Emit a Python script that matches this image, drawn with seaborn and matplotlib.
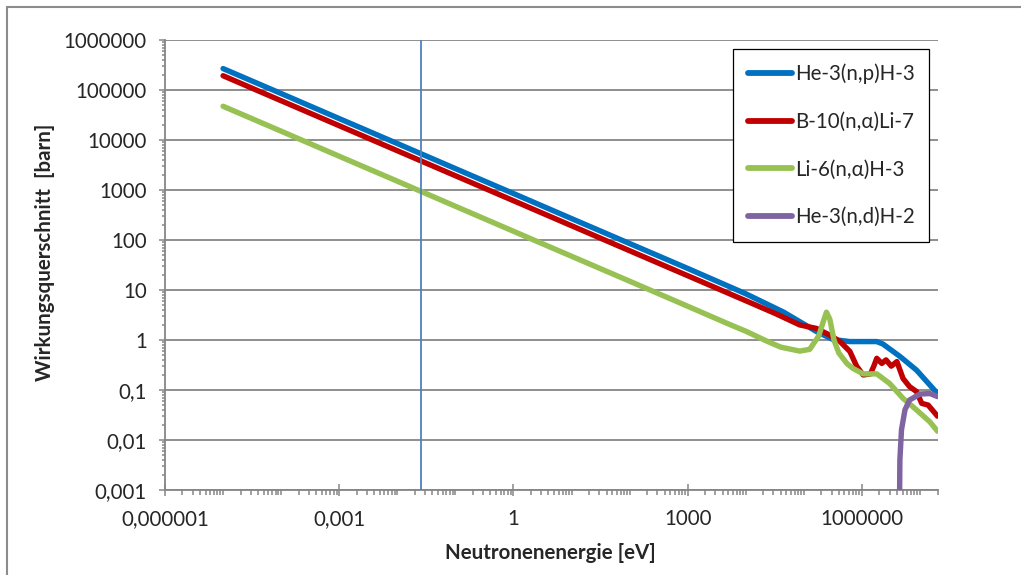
import matplotlib
matplotlib.use("Agg")
import matplotlib.pyplot as plt
import matplotlib.ticker as mticker
from matplotlib.lines import Line2D
import numpy as np
import pandas as pd
import seaborn as sns

# --- data (energy in eV, cross section in barn) ---
he3_np_energy = [1e-5, 1e-4, 1e-3, 1e-2, 1e-1, 1, 10, 100, 1e3, 1e4, 4.5e4,
                 1.66e5, 3.2e5, 6.2e5, 1.8e6, 2.3e6, 4.5e6, 8.7e6, 2e7]
he3_np_sigma = [2.68e5, 8.5e4, 2.68e4, 8.5e3, 2.68e3, 850, 268, 85, 27, 8.4, 3.6,
                1.47, 1.02, 0.93, 0.93, 0.83, 0.47, 0.25, 0.085]

b10_energy = [1e-5, 1e-4, 1e-3, 1e-2, 1e-1, 1, 10, 100, 1e3, 1e4, 3.2e4, 8.5e4,
              1.66e5, 2.8e5, 4.2e5, 6.2e5, 8.1e5, 1.05e6, 1.4e6, 1.6e6, 1.8e6,
              2.2e6, 2.6e6, 3.2e6, 4e6, 5.1e6, 6.6e6, 8.7e6, 1.07e7, 1.38e7, 2e7]
b10_sigma = [1.93e5, 6.1e4, 1.93e4, 6.1e3, 1.93e3, 611, 193, 61, 19.3, 6.1, 3.4, 2.0,
             1.7, 1.25, 0.93, 0.59, 0.3, 0.2, 0.21, 0.3, 0.43,
             0.34, 0.4, 0.3, 0.37, 0.17, 0.117, 0.093, 0.054, 0.05, 0.03]

li6_energy = [1e-5, 1e-4, 1e-3, 1e-2, 1e-1, 1, 10, 100, 1e3, 5e3, 1e4, 2.3e4, 4e4, 8.5e4,
              1.26e5, 1.8e5, 2.2e5, 2.45e5, 2.8e5, 3.3e5, 4e5, 5.5e5, 7e5, 1.05e6,
              1.8e6, 3e6, 5.1e6, 8.7e6, 1.48e7, 2e7]
li6_sigma = [4.73e4, 1.5e4, 4.73e3, 1.5e3, 473, 149.5, 47.3, 15, 4.73, 2.1, 1.5, 0.95, 0.72, 0.6,
             0.65, 1.2, 2.5, 3.6, 2.6, 1.0, 0.55, 0.34, 0.27, 0.21,
             0.21, 0.135, 0.068, 0.04, 0.023, 0.015]

he3_nd_energy = [4.4e6, 4.45e6, 4.5e6, 4.8e6, 5.5e6, 6.6e6, 1e7, 1.48e7, 2e7]
he3_nd_sigma = [1e-4, 8e-4, 0.004, 0.016, 0.04, 0.063, 0.083, 0.085, 0.074]

thermal_energy = 0.0253

series = [
    ("He-3(n,p)H-3", he3_np_energy, he3_np_sigma, "#0070C0"),
    ("B-10(n,α)Li-7", b10_energy, b10_sigma, "#C00000"),
    ("Li-6(n,α)H-3", li6_energy, li6_sigma, "#97C153"),
    ("He-3(n,d)H-2", he3_nd_energy, he3_nd_sigma, "#8064A2"),
]

x_major = [1e-6, 1e-3, 1, 1e3, 1e6]
y_major = [1e-3, 1e-2, 1e-1, 1, 10, 100, 1e3, 1e4, 1e5, 1e6]

sns.set_style("white")
plt.rcParams["font.family"] = ["Lato", "DejaVu Sans"]

GRAY = "#868686"
FS = 14.8

fig = plt.figure(figsize=(10.21, 5.75), dpi=100)
ax = fig.add_axes([165 / 1021, 85 / 575, 773 / 1021, 450 / 575])

for name, e, s, c in series:
    df = pd.DataFrame({"E": e, "sigma": s})
    sns.lineplot(data=df, x="E", y="sigma", ax=ax, color=c, linewidth=3.9,
                 label=name, estimator=None, sort=False, zorder=3)

ax.axvline(thermal_energy, color="#4F81BD", linewidth=1.3, zorder=4)

ax.set_xscale("log")
ax.set_yscale("log")
ax.set_xlim(1e-6, 2.04e7)
ax.set_ylim(1e-3, 1e6)


def comma_fmt(v, pos=None):
    if v >= 1:
        return f"{v:.0f}"
    digits = int(round(-np.log10(v)))
    return f"{v:.{digits}f}".replace(".", ",")


ax.xaxis.set_major_locator(mticker.FixedLocator(x_major))
x_minor = [k * 10.0 ** n for n in range(-6, 8) for k in range(1, 10)
           if k * 10.0 ** n < 2.04e7 and k * 10.0 ** n not in x_major]
ax.xaxis.set_minor_locator(mticker.FixedLocator(x_minor))
ax.yaxis.set_major_locator(mticker.FixedLocator(y_major))
ax.yaxis.set_minor_locator(mticker.LogLocator(base=10, subs=np.arange(2, 10)))
ax.xaxis.set_major_formatter(mticker.FuncFormatter(comma_fmt))
ax.yaxis.set_major_formatter(mticker.FuncFormatter(comma_fmt))
ax.xaxis.set_minor_formatter(mticker.NullFormatter())
ax.yaxis.set_minor_formatter(mticker.NullFormatter())

ax.tick_params(axis="x", which="major", direction="inout", length=9, width=1.1,
               color=GRAY, labelsize=FS, pad=9, bottom=True)
ax.tick_params(axis="x", which="minor", direction="out", length=3.5, width=1.1,
               color=GRAY, bottom=True)
ax.tick_params(axis="y", which="major", direction="out", length=4, width=1.1,
               color=GRAY, labelsize=FS, pad=9, left=True)
ax.tick_params(axis="y", which="minor", direction="out", length=2.5, width=1.1,
               color=GRAY, left=True)

ax.grid(True, axis="y", which="major", color=GRAY, linewidth=1.3)
ax.grid(False, axis="x")
ax.set_axisbelow(True)
for side in ("top", "right"):
    ax.spines[side].set_visible(False)
for side in ("left", "bottom"):
    ax.spines[side].set_color(GRAY)
    ax.spines[side].set_linewidth(1.3)

ax.set_xlabel("")
ax.set_ylabel("")
fig.text(45 / 1021, 1 - 252 / 575, "Wirkungsquerschnitt  [barn]", rotation=90,
         ha="center", va="center", fontsize=FS, fontweight="bold")
fig.text(550 / 1021, 1 - 553 / 575, "Neutronenenergie [eV]",
         ha="center", va="center", fontsize=FS, fontweight="bold")

leg = ax.legend(loc="upper left", bbox_to_anchor=(0.735, 0.98), borderaxespad=0,
                fontsize=FS, handlelength=2.15, handletextpad=0.15, labelspacing=1.35,
                borderpad=0.7, frameon=True, fancybox=False, framealpha=1)
leg.get_frame().set_edgecolor("black")
leg.get_frame().set_linewidth(0.9)
for line in leg.get_lines():
    line.set_linewidth(4.2)

# outer chart border (left and top edge visible in the reference)
fig.add_artist(Line2D([7 / 1021, 7 / 1021], [0, 1 - 7 / 575], color="#8c8c8c", lw=1.5))
fig.add_artist(Line2D([7 / 1021, 1], [1 - 7 / 575, 1 - 7 / 575], color="#8c8c8c", lw=1.5))

fig.savefig("out.png", dpi=100)
